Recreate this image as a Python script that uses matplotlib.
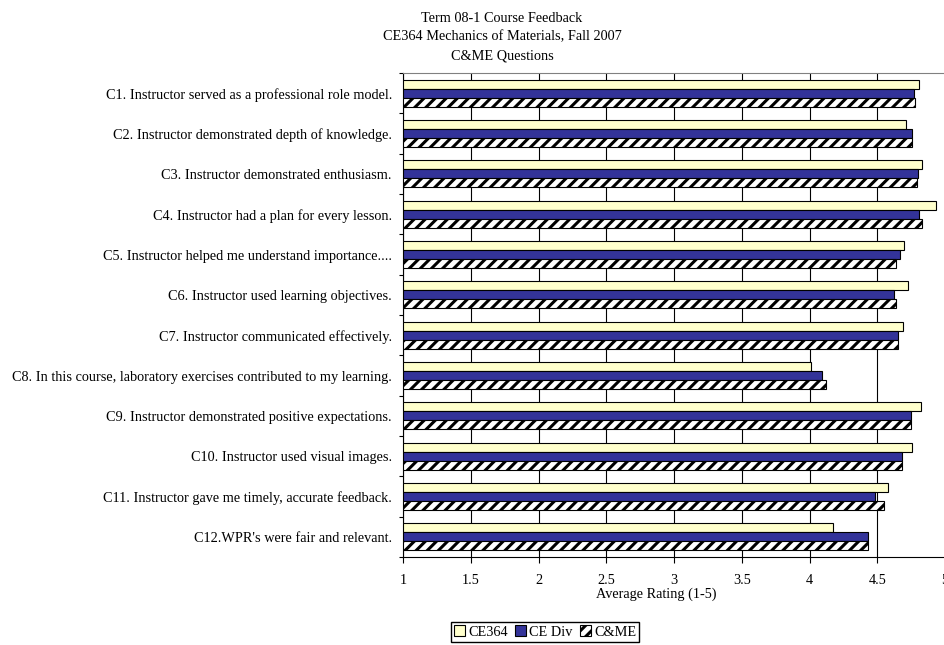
import matplotlib
matplotlib.use('Agg')
import matplotlib.pyplot as plt
import numpy as np

plt.rcParams['font.family'] = ['Liberation Serif', 'DejaVu Serif']
plt.rcParams['hatch.linewidth'] = 2.2

questions = [
    'C1. Instructor served as a professional role model.',
    'C2. Instructor demonstrated depth of knowledge.',
    'C3. Instructor demonstrated enthusiasm.',
    'C4. Instructor had a plan for every lesson.',
    'C5. Instructor helped me understand importance....',
    'C6. Instructor used learning objectives.',
    'C7. Instructor communicated effectively.',
    'C8. In this course, laboratory exercises contributed to my learning.',
    'C9. Instructor demonstrated positive expectations.',
    'C10. Instructor used visual images.',
    'C11. Instructor gave me timely, accurate feedback.',
    "C12.WPR's were fair and relevant.",
]
ce364 = [4.81, 4.71, 4.83, 4.93, 4.70, 4.73, 4.69, 4.01, 4.82, 4.76, 4.58, 4.17]
ce_div = [4.77, 4.76, 4.80, 4.81, 4.67, 4.62, 4.65, 4.09, 4.75, 4.68, 4.48, 4.43]
c_me = [4.78, 4.76, 4.79, 4.83, 4.64, 4.64, 4.65, 4.12, 4.75, 4.68, 4.55, 4.43]
xticks = [1, 1.5, 2, 2.5, 3, 3.5, 4, 4.5, 5]
xtick_labels = ['1', '1.5', '2', '2.5', '3', '3.5', '4', '4.5', '5']

fs = 10.3

fig = plt.figure(figsize=(9.45, 6.45), dpi=100)
ax = fig.add_axes([403 / 945, 88 / 645, 542 / 945, 484 / 645])

y = np.arange(len(questions))
h = 0.225
ax.barh(y - h, np.array(ce364) - 1, h, left=1, color='#FFFFCC', edgecolor='black',
        linewidth=0.8, label='CE364', zorder=3)
ax.barh(y, np.array(ce_div) - 1, h, left=1, color='#333399', edgecolor='black',
        linewidth=0.8, label='CE Div', zorder=3)
ax.barh(y + h, np.array(c_me) - 1, h, left=1, color='white', edgecolor='black',
        linewidth=0.8, hatch='///', label='C&ME', zorder=3)

ax.set_xlim(1, 5)
ax.set_ylim(len(questions) - 0.5, -0.5)
ax.set_xticks(xticks, xtick_labels)
ax.tick_params(axis='x', direction='out', length=4.3, width=0.8, pad=8, labelsize=fs)
ax.set_yticks(y, questions)
ax.tick_params(axis='y', which='major', length=0, pad=8, labelsize=fs)
ax.set_yticks(np.arange(len(questions) + 1) - 0.5, minor=True)
ax.tick_params(axis='y', which='minor', direction='out', length=3, width=0.8)

ax.grid(axis='x', color='black', linewidth=0.8, zorder=0)
ax.spines['top'].set_color('#808080')
ax.spines['right'].set_visible(False)
ax.spines['left'].set_linewidth(0.8)
ax.spines['bottom'].set_linewidth(0.8)

ax.set_xlabel('Average Rating (1-5)', fontsize=fs, va='top')
ax.xaxis.set_label_coords(0.467, -0.064)

fig.text(502 / 945, 1 - 18 / 645, 'Term 08-1 Course Feedback', ha='center', va='center', fontsize=fs)
fig.text(502 / 945, 1 - 37 / 645, 'CE364 Mechanics of Materials, Fall 2007', ha='center', va='center', fontsize=fs)
fig.text(502 / 945, 1 - 56 / 645, 'C&ME Questions', ha='center', va='center', fontsize=fs)

fig.legend(loc='center', bbox_to_anchor=(545 / 945, 13 / 645), ncol=3, fontsize=fs,
           frameon=True, fancybox=False, edgecolor='black', framealpha=1,
           handlelength=0.8, handleheight=0.8, handletextpad=0.2,
           columnspacing=0.5, borderpad=0.2, borderaxespad=0)

fig.savefig('out.png', dpi=100)
